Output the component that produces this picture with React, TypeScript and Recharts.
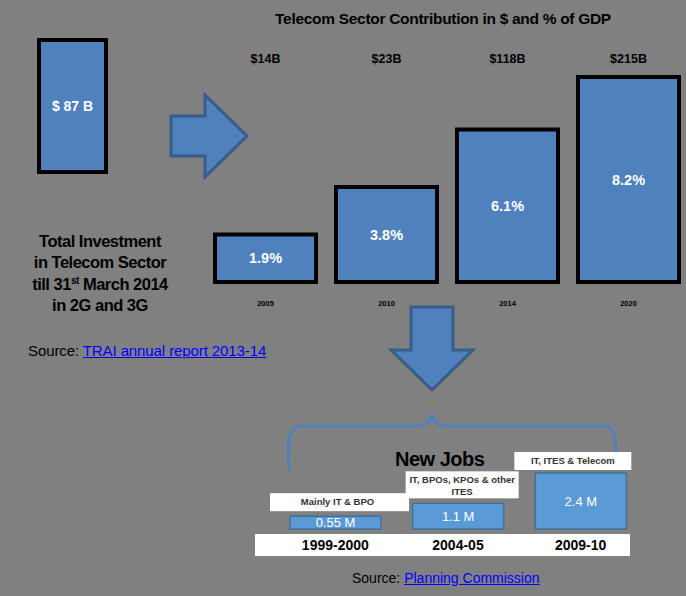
import { BarChart, Bar, XAxis, YAxis, LabelList } from "recharts";

const gdpYears = ["2005", "2010", "2014", "2020"];
const gdpShare = [1.9, 3.8, 6.1, 8.2];
const gdpDollars = ["$14B", "$23B", "$118B", "$215B"];

const investmentLabel = "Total Investment";
const investment = [87];

const jobYears = ["1999-2000", "2004-05", "2009-10"];
const jobMillions = [0.55, 1.1, 2.4];
const jobSectors = [["Mainly IT & BPO"], ["IT, BPOs, KPOs & other", "ITES"], ["IT, ITES & Telecom"]];

const gdpData = gdpYears.map((year, i) => ({ year, share: gdpShare[i], usd: gdpDollars[i] }));
const investData = investment.map((v) => ({ name: investmentLabel, value: v }));
const jobData = jobYears.map((year, i) => ({ year, jobs: jobMillions[i], sector: jobSectors[i] }));

const BLUE = "#4f81bd";
const JOB_BLUE = "#5b9bd5";
const FONT = "'Liberation Sans', Arial, sans-serif";
const boxWidths = [143, 113, 117];
const boxOffsets = [2, 4, -8];

const SectorBox = (props: any) => {
  const { x, y, width, index } = props;
  const lines: string[] = jobSectors[index];
  const w = boxWidths[index];
  const h = lines.length > 1 ? 27 : 18;
  const cx = x + width / 2 + boxOffsets[index];
  const top = y - 5 - h + (index === 2 ? 2 : 0);
  return (
    <g>
      <rect x={cx - w / 2} y={top} width={w} height={h} fill="#fff" />
      {lines.map((l, k) => (
        <text key={k} x={cx} y={top + 12 + k * 12} textAnchor="middle" fontSize={9.5} fontWeight="bold" fill="#333" fontFamily={FONT}>
          {l}
        </text>
      ))}
    </g>
  );
};

export default function App() {
  return (
    <div style={{ position: "absolute", left: 0, top: 0, width: 686, height: 596, background: "#808080", overflow: "hidden", fontFamily: FONT }}>
      {/* decorations: arrows, brace, white year band */}
      <svg width={686} height={596} style={{ position: "absolute", left: 0, top: 0 }}>
        <polygon points="171,116 205,116 205,95 247,136 205,177 205,156 171,156" fill={BLUE} stroke="#385d8a" strokeWidth={3} />
        <polygon points="411,307 453,307 453,350 473,350 432,390 391,350 411,350" fill={BLUE} stroke="#385d8a" strokeWidth={3} />
        <path d="M289,470 C287,443 288,428 300,426 L422,426 C428,425 431,420 432,413 C433,420 436,425 442,426 L606,426 C616,428 617,443 616,470" fill="none" stroke={BLUE} strokeWidth={3} />
        <rect x={255} y={534} width={375} height={22} fill="#fff" />
      </svg>

      <div style={{ position: "absolute", left: 0, top: 0 }}>
        <BarChart width={145} height={200} data={investData} margin={{ top: 40, right: 39, bottom: 28, left: 39 }} barCategoryGap={0}>
          <XAxis dataKey="name" hide />
          <YAxis hide domain={[0, 87]} />
          <Bar dataKey="value" fill={BLUE} stroke="#000" strokeWidth={4} isAnimationActive={false}>
            <LabelList dataKey="value" position="center" formatter={(v: any) => `$ ${v} B`} fill="#fff" fontSize={14} fontWeight="bold" fontFamily={FONT} />
          </Bar>
        </BarChart>
      </div>

      <div style={{ position: "absolute", left: 243, top: 10, width: 400, textAlign: "center" }}>
        <span style={{ fontSize: 15.5, fontWeight: "bold", letterSpacing: -0.3, color: "#000" }}>
          Telecom Sector Contribution in $ and % of GDP
        </span>
      </div>

      <div style={{ position: "absolute", left: 200, top: 0 }}>
        <BarChart width={490} height={320} data={gdpData} margin={{ top: 47, right: 1, bottom: 8, left: 5 }} barCategoryGap={10}>
          <XAxis xAxisId="usd" dataKey="usd" orientation="top" height={30} axisLine={false} tickLine={false} tickSize={0} tickMargin={14} interval={0}
            tick={{ fill: "#000", fontSize: 12.5, fontWeight: "bold", fontFamily: FONT }} />
          <XAxis xAxisId="yr" dataKey="year" height={30} axisLine={false} tickLine={false} tickSize={0} tickMargin={19} interval={0}
            tick={{ fill: "#000", fontSize: 7.5, fontWeight: "bold", fontFamily: FONT }} />
          <YAxis hide domain={[0, 8.2]} />
          <Bar xAxisId="yr" dataKey="share" fill={BLUE} stroke="#000" strokeWidth={4} isAnimationActive={false}>
            <LabelList dataKey="share" position="center" formatter={(v: any) => `${v}%`} fill="#fff" fontSize={14.5} fontWeight="bold" fontFamily={FONT} />
          </Bar>
        </BarChart>
      </div>

      <div style={{ position: "absolute", left: 0, top: 231, width: 200, textAlign: "center", fontSize: 16.5, fontWeight: "bold", lineHeight: "21.3px", color: "#000", letterSpacing: -0.5 }}>
        Total Investment<br />in Telecom Sector<br />till 31<sup style={{ fontSize: 10, lineHeight: 0 }}>st</sup> March 2014<br />in 2G and 3G
      </div>

      <div style={{ position: "absolute", left: 28, top: 342, fontSize: 15, color: "#000", whiteSpace: "nowrap", letterSpacing: -0.1 }}>
        Source: <span style={{ color: "#0000ff", textDecoration: "underline" }}>TRAI annual report 2013-14</span>
      </div>

      <div style={{ position: "absolute", left: 395, top: 448, fontSize: 20, fontWeight: "bold", color: "#000", letterSpacing: -0.5 }}>New Jobs</div>

      <div style={{ position: "absolute", left: 270, top: 440 }}>
        <BarChart width={380} height={120} data={jobData} margin={{ top: 33, right: 8, bottom: 6, left: 4 }} barSize={91}>
          <XAxis dataKey="year" height={25} axisLine={false} tickLine={false} tickSize={0} tickMargin={11} interval={0}
            tick={{ fill: "#000", fontSize: 14, fontWeight: "bold", fontFamily: FONT }} />
          <YAxis hide domain={[0, 2.4]} />
          <Bar dataKey="jobs" fill={JOB_BLUE} stroke="#41719c" strokeWidth={1.5} isAnimationActive={false}>
            <LabelList dataKey="jobs" position="center" formatter={(v: any) => `${v} M`} fill="#fff" fontSize={13} fontFamily={FONT} />
            <LabelList dataKey="jobs" content={SectorBox} />
          </Bar>
        </BarChart>
      </div>

      <div style={{ position: "absolute", left: 352, top: 570, fontSize: 14, color: "#000", whiteSpace: "nowrap" }}>
        Source: <span style={{ color: "#0000ff", textDecoration: "underline" }}>Planning Commission </span>
      </div>
    </div>
  );
}
